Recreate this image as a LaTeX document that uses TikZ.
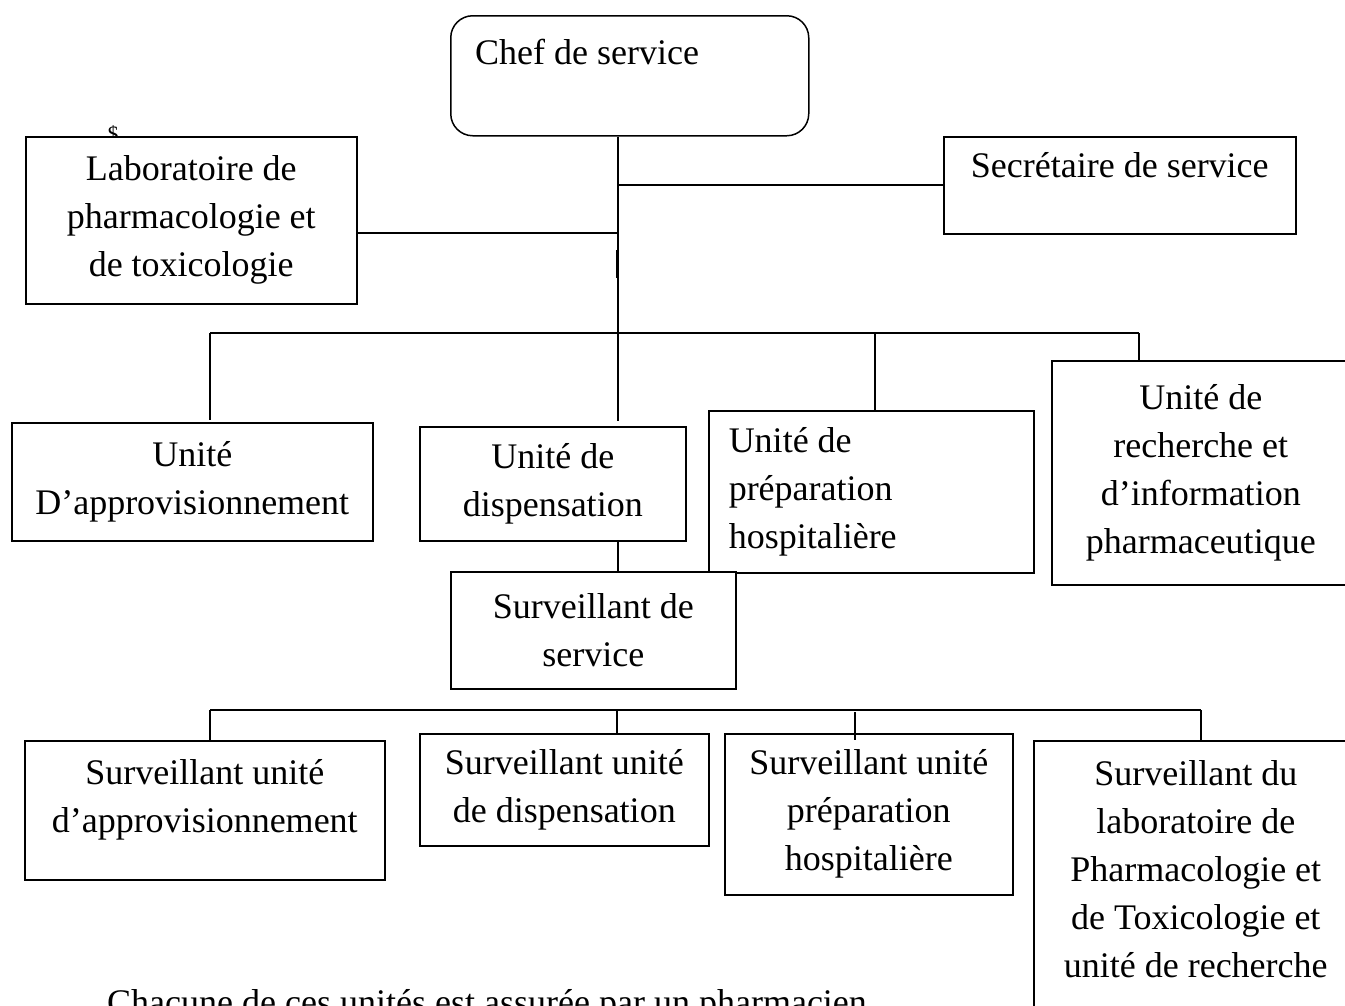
\documentclass[tikz,border=0pt]{standalone}
\usepackage{fontspec}
\setmainfont{Liberation Serif}
\newcommand{\orgfont}{\fontsize{36}{48}\selectfont}
\tikzset{
  unitbox/.style={draw, fill=white, line width=1.5pt, anchor=north west, align=center, font=\orgfont, inner sep=4pt},
  unitext/.style={font=\orgfont, align=center, inner sep=0pt},
  link/.style={line width=1.5pt},
}
\begin{document}
\begin{tikzpicture}[x=1pt,y=-1pt]
\useasboundingbox (0,0) rectangle (1345,1005);
\clip (0,0) rectangle (1345,1005);

\node[font=\fontsize{22}{24}\selectfont, anchor=base, inner sep=0pt] (dollar) at (113,141) {\$};

% head and staff
\node[unitbox, rounded corners=22pt, minimum width=358pt, minimum height=120pt] (chef) at (450,15) {};
\node[unitext, anchor=base west] (chef-t) at (475,64) {Chef de service};
\node[unitbox, minimum width=331pt, minimum height=167pt] (labo) at (25,136) {Laboratoire de\\pharmacologie et\\de toxicologie};
\node[unitbox, minimum width=352pt, minimum height=97pt] (secr) at (943,136) {};
\node[unitext, anchor=base] (secr-t) at (secr.north |- 0,177) {Secrétaire de service};

% units
\node[unitbox, minimum width=361pt, minimum height=118pt] (appro) at (11,422) {Unité\\D’approvisionnement};
\node[unitbox, minimum width=266pt, minimum height=114pt] (disp) at (419,426) {Unité de\\dispensation};
\node[unitbox, minimum width=325pt, minimum height=162pt, align=flush left, text width=285pt, inner xsep=20pt] (prep) at (708,410) {Unité de\\préparation\\hospitalière};
\node[unitbox, minimum width=298pt, minimum height=224pt] (rech) at (1051,360) {Unité de\\recherche et\\d’information\\pharmaceutique};
\node[unitbox, minimum width=285pt, minimum height=117pt] (survserv) at (450,571) {Surveillant de\\service};

% surveillants
\node[unitbox, minimum width=360pt, minimum height=139pt] (sappro) at (24,740) {};
\node[unitext, yshift=10pt] (sappro-t) at (sappro.center) {Surveillant unité\\d’approvisionnement};
\node[unitbox, minimum width=289pt, minimum height=112pt] (sdisp) at (419,733) {Surveillant unité\\de dispensation};
\node[unitbox, minimum width=288pt, minimum height=161pt] (sprep) at (724,733) {Surveillant unité\\préparation\\hospitalière};
\node[unitbox, minimum width=324pt, minimum height=268pt] (slabo) at (1033,740) {};
\node[unitext, yshift=6pt] (slabo-t) at (slabo.center) {Surveillant du\\laboratoire de\\Pharmacologie et\\de Toxicologie et\\unité de recherche};

% trunk
\coordinate (trunk) at (618,333);
\draw[link, shorten >=5pt] (trunk |- chef.south) -- (trunk |- disp.north);
\coordinate (secrjoin) at (618,185);
\draw[link] (secrjoin) -- (secrjoin -| secr.west);
\coordinate (labojoin) at (618,233);
\draw[link] (labojoin) -- (labojoin -| labo.east);
\draw[line width=2.6pt] (617,250) -- (617,278);

% upper bus
\coordinate (busL) at (210,333);
\coordinate (busR) at (1139,333);
\coordinate (busP) at (875,333);
\draw[link] (busL) -- (busR);
\draw[link, shorten >=2pt] (busL) -- (busL |- appro.north);
\draw[link] (busP) -- (busP |- prep.north);
\draw[link] (busR) -- (busR |- rech.north);
\draw[link] (disp.south -| trunk) -- (survserv.north -| trunk);

% lower bus
\coordinate (lowL) at (210,710);
\coordinate (lowR) at (1201,710);
\coordinate (lowD) at (617,710);
\coordinate (lowP) at (855,712);
\draw[link] (lowL) -- (lowR);
\draw[link] (lowL) -- (lowL |- sappro.north);
\draw[link] (lowD) -- (lowD |- sdisp.north);
\draw[link] (lowP) -- (lowP |- sappro.north);
\draw[link] (lowR) -- (lowR |- slabo.north);

\node[font=\orgfont, anchor=base west, inner sep=0pt] (note) at (107,1014) {Chacune de ces unités est assurée par un pharmacien};
\end{tikzpicture}
\end{document}
